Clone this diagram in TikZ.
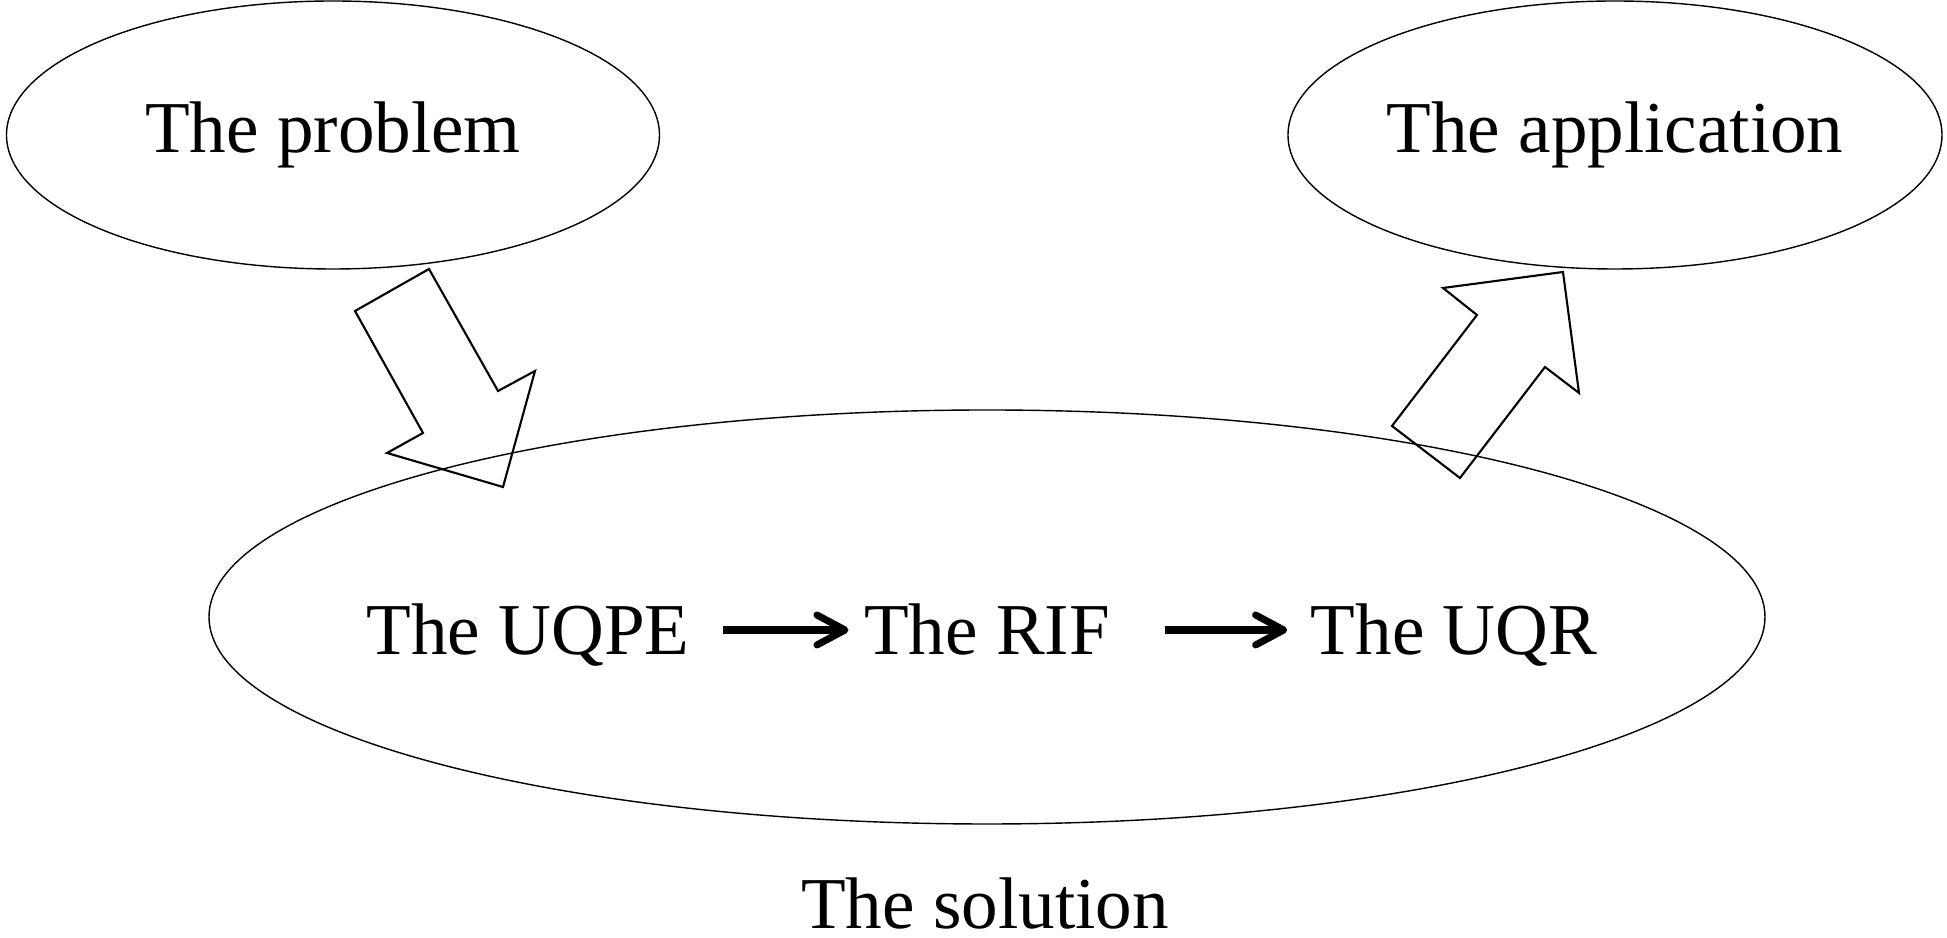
\documentclass[tikz,border=0pt]{standalone}
\usepackage{fontspec}
\setmainfont{Liberation Serif}
\usepackage{tikz}
\usetikzlibrary{arrows.meta,calc,positioning,shapes.geometric}

\begin{document}
\begin{tikzpicture}[>=Stealth,
  bubble/.style={ellipse,draw,thin,inner sep=0pt},
  stage/.style={inner sep=0pt,text height=0.5cm,text depth=0pt,anchor=base},
  flow/.style={-{Straight Barb[length=2.8mm,width=3mm,round]},line width=2pt},
  blockarrow/.style={draw,line width=0.6pt,line join=miter}]
\fontsize{20.8}{25}\selectfont
\useasboundingbox (0,0) rectangle (19.47,9.38);
% ---- top: problem and application ----
\node[bubble,minimum width=6.53cm,minimum height=2.68cm] (problem) at (3.33,8.03) {The problem};
\node[bubble,minimum width=6.54cm,minimum height=2.68cm] (application) at (16.15,8.03) {The application};
% ---- bottom: the solution ----
\node[bubble,minimum width=15.56cm,minimum height=4.14cm] (solution) at (9.87,3.21) {};
\node[anchor=base,inner sep=0pt] (sollabel) at (9.85,0.09) {The solution};
\node[stage] (uqpe) at (5.28,2.83) {The UQPE};
\node[stage] (rif) at (9.87,2.83) {The RIF};
\node[stage] (uqr) at (14.54,2.83) {The UQR};
\draw[flow,shorten <=0.33cm,shorten >=0.15cm] (uqpe.east) -- (rif.west);
\draw[flow,shorten <=0.54cm,shorten >=0.23cm] (rif.east) -- (uqr.west);
% block arrows: problem -> solution -> application
\draw[blockarrow] (3.55,6.27) -- (4.29,6.69) -- (4.98,5.47) -- (5.35,5.67)
  -- (5.03,4.51) -- (3.87,4.85) -- (4.23,5.05) -- cycle;
\draw[blockarrow] (13.92,5.12) -- (14.77,6.23) -- (14.43,6.50) -- (15.63,6.66)
  -- (15.79,5.45) -- (15.45,5.71) -- (14.60,4.60) -- cycle;
\end{tikzpicture}
\end{document}
